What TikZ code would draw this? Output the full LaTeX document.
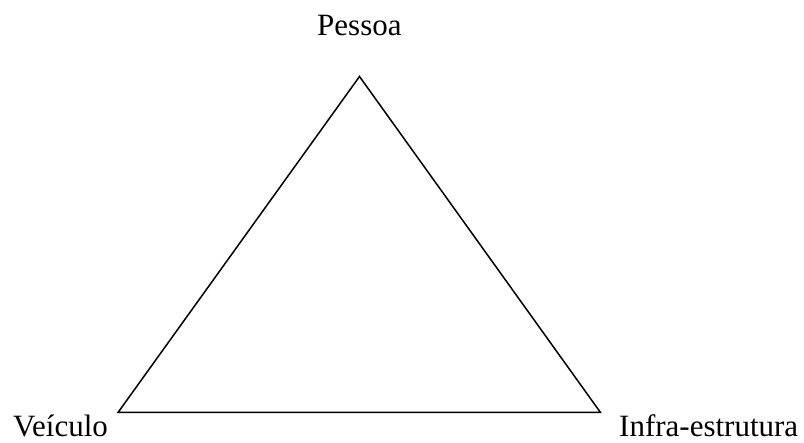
\documentclass[tikz,border=0pt]{standalone}
\usepackage{fontspec}
\setmainfont{Liberation Serif}
\begin{document}
\begin{tikzpicture}[x=1pt,y=-1pt,
  lbl/.style={inner sep=0pt,anchor=base west,font=\fontsize{31}{36}\selectfont},
  tri/.style={draw=black,line width=1.5pt,line join=miter}]
\useasboundingbox (0,0) rectangle (804,443);
\coordinate (P) at (359.5,76.5);
\coordinate (V) at (118,412.5);
\coordinate (I) at (600.5,412.5);
\draw[tri] (P) -- (V) -- (I) -- cycle;
\node[lbl] (lp) at (317,36) {Pessoa};
\node[lbl] (lv) at (13,437) {Veículo};
\node[lbl] (li) at (619,437) {Infra-estrutura};
\end{tikzpicture}
\end{document}
